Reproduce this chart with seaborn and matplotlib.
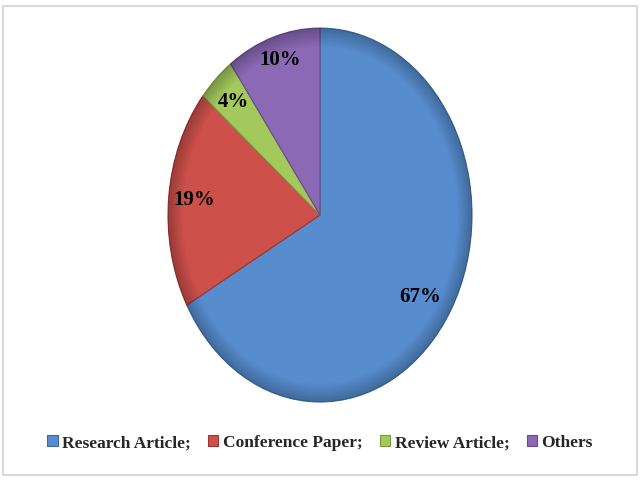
import numpy as np
import seaborn as sns
import matplotlib.pyplot as plt
from matplotlib.patches import Rectangle

sns.set_theme(style="white")
plt.rcParams['font.family'] = ['Liberation Serif', 'DejaVu Serif']

categories = ["Research Article;", "Conference Paper;", "Review Article;", "Others"]
shares = [67, 19, 4, 10]
colors = ["#578dcf", "#cd504b", "#a3c95c", "#8b69b5"]
edge_colors = ["#3d6aa3", "#9c3431", "#7b9a3d", "#67498c"]

fig = plt.figure(figsize=(6.4, 4.8), dpi=100)
fig.patch.set_facecolor("white")
fig.add_artist(Rectangle((0.005, 0.01), 0.99, 0.978, transform=fig.transFigure,
                         fill=False, edgecolor="#d9d9d9", linewidth=1.5))

ax = fig.add_axes([0.2625, 0.1625, 0.475, 0.779])
wedges, texts, autotexts = ax.pie(
    shares, colors=colors, startangle=90, counterclock=False,
    autopct="%d%%", pctdistance=0.83,
    wedgeprops=dict(linewidth=0.8),
    textprops=dict(fontsize=15, fontweight="bold", color="black"),
)
for w, ec in zip(wedges, edge_colors):
    w.set_edgecolor(ec)
autotexts[0].set_position((0.66, -0.44))
autotexts[3].set_position((-0.26, 0.83))

# soft bevel: darker rim clipped to each wedge
yy, xx = np.mgrid[-1:1:300j, -1:1:300j]
r = np.sqrt(xx ** 2 + yy ** 2)
for w, c in zip(wedges, colors):
    sheen = np.clip((r - 0.9) / 0.1, 0, 1)
    rgba = np.zeros((300, 300, 4))
    rgba[..., 3] = 0.25 * sheen
    im = ax.imshow(rgba, extent=(-1, 1, -1, 1), origin="lower", zorder=w.get_zorder() + 0.1)
    im.set_clip_path(w)

ax.set_aspect("auto")
ax.set_xlim(-1, 1)
ax.set_ylim(-1, 1)
ax.axis("off")

leg = fig.legend(wedges, categories, loc="center", bbox_to_anchor=(0.5, 0.077),
                 ncol=4, frameon=False, handlelength=0.6, handleheight=0.6,
                 handletextpad=0.25, columnspacing=1.0,
                 prop=dict(size=12.5, weight="bold"))

plt.savefig("out.png", dpi=100)
